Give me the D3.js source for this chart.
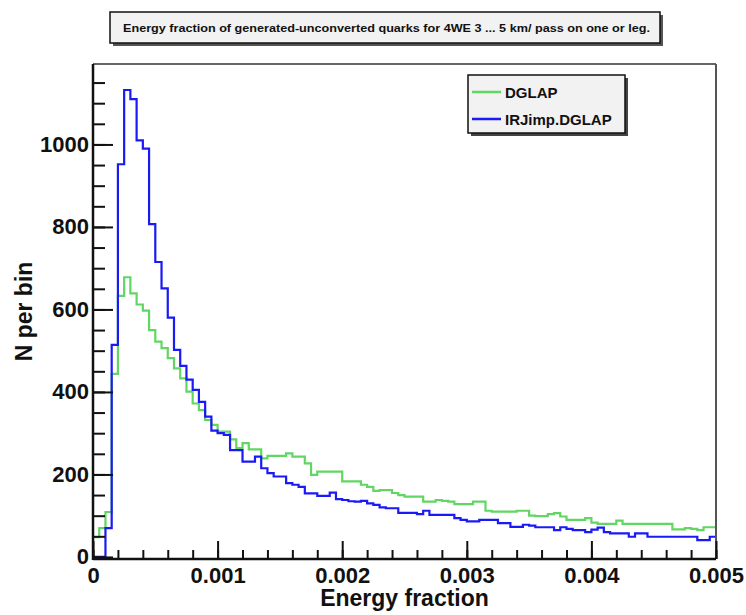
<!DOCTYPE html>
<html lang="en">
<head>
<meta charset="UTF-8">
<title>Energy fraction histogram</title>
<style>
  body { margin: 0; background: #fff; }
  svg text { font-family: "Liberation Sans", Arial, sans-serif; font-weight: bold; fill: #111; }
</style>
<script src="https://cdn.jsdelivr.net/npm/d3@7"></script>
</head>
<body>
<script>
// histogram binning: 100 bins on [0, 0.005]
const xLow = 0, xHigh = 0.005, binCount = 100;
const titleText = "Energy fraction of generated-unconverted quarks for 4WE 3 ... 5 km/ pass on one or leg.";
const seriesNames = ["DGLAP", "IRJimp.DGLAP"];
const seriesColors = ["#62d662", "#1a1af5"];

// counts per bin
const dglap = [
  48, 70, 109, 444, 633, 678, 639, 612, 597, 550,
  522, 506, 482, 457, 433, 401, 372, 356, 332, 320,
  304, 304, 285, 264, 276, 261, 261, 239, 245, 245,
  245, 251, 243, 243, 227, 199, 207, 207, 207, 207,
  183, 183, 183, 175, 170, 160, 162, 162, 155, 150,
  146, 146, 146, 134, 134, 138, 136, 134, 128, 128,
  128, 134, 134, 112, 110, 110, 110, 110, 112, 112,
  100, 99, 99, 104, 106, 98, 90, 90, 90, 94,
  83, 80, 80, 80, 88, 80, 80, 80, 80, 80,
  80, 80, 80, 67, 67, 70, 68, 65, 72, 72
];
const irjimp = [
  0, 0, 70, 514, 952, 1132, 1110, 1010, 990, 807,
  715, 651, 580, 502, 463, 430, 405, 376, 340, 306,
  300, 296, 259, 259, 231, 231, 243, 215, 203, 195,
  195, 179, 175, 170, 154, 154, 148, 148, 156, 140,
  138, 135, 134, 136, 130, 126, 120, 118, 118, 107,
  107, 107, 104, 112, 102, 102, 102, 102, 94, 90,
  86, 86, 90, 90, 90, 82, 82, 73, 73, 78,
  76, 72, 72, 72, 65, 72, 68, 65, 65, 60,
  66, 71, 60, 57, 57, 57, 49, 57, 57, 49,
  49, 49, 49, 49, 49, 49, 49, 41, 41, 49
];

const xTicks = [0, 0.001, 0.002, 0.003, 0.004, 0.005];
const xTickLabels = ["0", "0.001", "0.002", "0.003", "0.004", "0.005"];
const yTicks = [0, 200, 400, 600, 800, 1000];
const yTickLabels = ["0", "200", "400", "600", "800", "1000"];

const width = 746, height = 615;
const plot = { left: 93, right: 716, top: 64, bottom: 559 };

const svg = d3.select("body").append("svg")
  .attr("width", width).attr("height", height);

const x = d3.scaleLinear().domain([xLow, xHigh]).range([plot.left, plot.right]);
const y = d3.scaleLinear().domain([-5, 1195]).range([plot.bottom, plot.top]);

// title box with shadow
svg.append("rect").attr("x", 113).attr("y", 15).attr("width", 550).attr("height", 31).attr("fill", "#555");
svg.append("rect").attr("x", 110).attr("y", 12).attr("width", 550).attr("height", 31)
  .attr("fill", "#f2f2f2").attr("stroke", "#111").attr("stroke-width", 1.5);
svg.append("text").attr("x", 123).attr("y", 32)
  .attr("font-size", 11).attr("textLength", 527).attr("lengthAdjust", "spacingAndGlyphs")
  .text(titleText);

// histograms
const bw = (xHigh - xLow) / binCount;
const line = d3.line().curve(d3.curveStepAfter).x(d => x(d[0])).y(d => y(d[1]));
svg.append("clipPath").attr("id", "clip").append("rect")
  .attr("x", plot.left).attr("y", plot.top)
  .attr("width", plot.right - plot.left).attr("height", plot.bottom - plot.top);

[dglap, irjimp].forEach((vals, k) => {
  const pts = vals.map((v, i) => [xLow + i * bw, v]);
  pts.push([xHigh, vals[vals.length - 1]]);
  svg.append("path")
    .attr("clip-path", "url(#clip)")
    .attr("d", line(pts))
    .attr("fill", "none")
    .attr("stroke", seriesColors[k])
    .attr("stroke-width", 2.2);
});

// frame
svg.append("line").attr("x1", plot.left).attr("x2", plot.right).attr("y1", plot.top).attr("y2", plot.top)
  .attr("stroke", "#666").attr("stroke-width", 2);
svg.append("line").attr("x1", plot.right).attr("x2", plot.right).attr("y1", plot.top).attr("y2", plot.bottom)
  .attr("stroke", "#555").attr("stroke-width", 2);

// y axis: ticks point into the frame
const yMinor = d3.range(0, 1200, 50);
svg.append("g").attr("transform", `translate(${plot.left},0)`)
  .call(d3.axisLeft(y).tickValues(yMinor).tickSize(-12).tickFormat(""))
  .call(g => g.select(".domain").remove())
  .call(g => g.selectAll("line").attr("stroke", "#111").attr("stroke-width", 2));
svg.append("g").attr("transform", `translate(${plot.left},0)`)
  .call(d3.axisLeft(y).tickValues(yTicks).tickSize(-20).tickPadding(4)
    .tickFormat((d, i) => yTickLabels[i]))
  .call(g => g.select(".domain").remove())
  .call(g => g.selectAll("line").attr("stroke", "#111").attr("stroke-width", 2))
  .call(g => g.selectAll("text").attr("font-size", 22).attr("font-family", null).attr("fill", "#111"));

// x axis
const xMinor = d3.range(0, 26).map(i => i * 0.0002);
svg.append("g").attr("transform", `translate(0,${plot.bottom})`)
  .call(d3.axisBottom(x).tickValues(xMinor).tickSize(-9).tickFormat(""))
  .call(g => g.select(".domain").remove())
  .call(g => g.selectAll("line").attr("stroke", "#111").attr("stroke-width", 2));
svg.append("g").attr("transform", `translate(0,${plot.bottom})`)
  .call(d3.axisBottom(x).tickValues(xTicks).tickSize(-18).tickPadding(8)
    .tickFormat((d, i) => xTickLabels[i]))
  .call(g => g.select(".domain").remove())
  .call(g => g.selectAll("line").attr("stroke", "#111").attr("stroke-width", 2))
  .call(g => g.selectAll("text").attr("font-size", 22).attr("font-family", null).attr("fill", "#111"));

// axis lines
svg.append("line").attr("x1", plot.left).attr("x2", plot.left).attr("y1", plot.top).attr("y2", plot.bottom + 1)
  .attr("stroke", "#111").attr("stroke-width", 2.5);
svg.append("line").attr("x1", plot.left).attr("x2", plot.right).attr("y1", plot.bottom).attr("y2", plot.bottom)
  .attr("stroke", "#111").attr("stroke-width", 2.5);

// axis titles
svg.append("text").attr("x", (plot.left + plot.right) / 2).attr("y", 606)
  .attr("text-anchor", "middle").attr("font-size", 23).text("Energy fraction");
svg.append("text").attr("transform", `translate(32,${(plot.top + plot.bottom) / 2}) rotate(-90)`)
  .attr("text-anchor", "middle").attr("font-size", 23).text("N per bin");

// legend
const lg = svg.append("g").attr("transform", "translate(468,75)");
lg.append("rect").attr("x", 3).attr("y", 3).attr("width", 157).attr("height", 58).attr("fill", "#444");
lg.append("rect").attr("width", 157).attr("height", 58)
  .attr("fill", "#f2f2f2").attr("stroke", "#111").attr("stroke-width", 1.5);
seriesNames.forEach((name, k) => {
  const cy = 17 + k * 27;
  lg.append("line").attr("x1", 4).attr("x2", 33).attr("y1", cy).attr("y2", cy)
    .attr("stroke", seriesColors[k]).attr("stroke-width", 2.5);
  lg.append("text").attr("x", 37).attr("y", cy + 5.5).attr("font-size", 15).text(name);
});
</script>
</body>
</html>
